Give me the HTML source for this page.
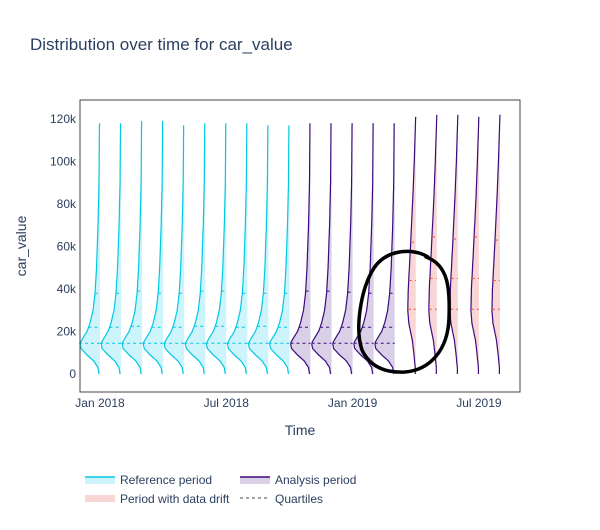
<!DOCTYPE html>
<html><head><meta charset="utf-8"><style>
body{margin:0;background:#fff;font-family:"Liberation Sans",sans-serif;}
svg text{font-family:"Liberation Sans",sans-serif;fill:#2a3f5f;}
</style></head><body>
<svg id="chart" width="600" height="525" xmlns="http://www.w3.org/2000/svg">
<rect width="600" height="525" fill="#fff"/>
<text x="30" y="50" font-size="17">Distribution over time for car_value</text>
<g id="marks"></g>
<rect x="80" y="100" width="440" height="292" fill="none" stroke="#444" stroke-width="1"/>
<g id="axes"></g>
<text x="300" y="435" font-size="14" text-anchor="middle">Time</text>
<text transform="translate(26,246) rotate(-90)" font-size="14" text-anchor="middle">car_value</text>
<path d="M428,257 C412,247 386,250 374,268 C360,290 355,330 362,350 C370,367 385,373 405,372 C430,370 448,350 449,318 C450,290 449,265 426,257" fill="none" stroke="#000" stroke-width="3.5" stroke-linecap="round"/>
<g>
<g><rect x="85" y="477" width="30" height="7" fill="#ccf4fa"/><line x1="85" y1="477" x2="115" y2="477" stroke="#00c8e5" stroke-width="1.5"/><text x="120" y="484" font-size="12">Reference period</text></g>
<g><rect x="240" y="477" width="30" height="7" fill="#d9d0e8"/><line x1="240" y1="477" x2="270" y2="477" stroke="#3c0a7c" stroke-width="1.5"/><text x="275" y="484" font-size="12">Analysis period</text></g>
<g><rect x="85" y="495" width="30" height="7" fill="#f9d6d6"/><text x="120" y="503" font-size="12">Period with data drift</text></g>
<g><line x1="240" y1="498" x2="270" y2="498" stroke="#444" stroke-dasharray="3,3"/><text x="275" y="503" font-size="12">Quartiles</text></g>
</g>
</svg>
<script>
const monthIdx=[0,1,2,3,4,5,6,7,8,9,10,11,12,13,14,15,16,17,18,19];
const period=["ref","ref","ref","ref","ref","ref","ref","ref","ref","ref","ana","ana","ana","ana","ana","drift","drift","drift","drift","drift"];
const maxVal=[118,118,119,119,117,118,118,118,117,117,118,118,118,118,118,121,122,122,121,122];
const q1=[14.5,14.5,14.5,14.5,14.5,14.5,14.5,14.5,14.5,14.5,14.5,14.5,14.5,14.5,14.5,30.5,30.5,30.5,30.5,30.5];
const med=[22,22,22.5,22,22,22.5,22.5,22,22.5,22,22,22,22,22,22,44,45,45,45,44];
const q3=[38,38,39,38,38,39,39,38,38,38,39,39,38.5,38,38,62,64.5,63.5,64.5,63];
const refProfV=[0,3,6,9,12,14.5,17,20,24,30,38,50,70,90,120];
const refProfW=[1,2,6,13,19,20,17,13,10,7,5,3.5,2,1,0.5];
const driftProfV=[0,3,10,16,24,30,40,58,82,100,122];
const driftProfW=[0.5,0.5,2,3.5,7,8,7.5,5.5,3,1.5,0];
const xs=i=>100+i*21.05, ys=v=>374-v*2.125;
function interp(vs,ws,v){if(v<=vs[0])return ws[0];for(let k=1;k<vs.length;k++){if(v<=vs[k]){const t=(v-vs[k-1])/(vs[k]-vs[k-1]);return ws[k-1]+t*(ws[k]-ws[k-1]);}}return ws[ws.length-1];}
const NS="http://www.w3.org/2000/svg";
const marks=document.getElementById('marks'),axes=document.getElementById('axes');
function mk(tag,attrs,parent){const e=document.createElementNS(NS,tag);for(const k in attrs)e.setAttribute(k,attrs[k]);parent.appendChild(e);return e;}
const col={ref:["#00c8e5","#ccf4fa","#00c8e5"],ana:["#3c0a7c","#d9d0e8","#3c0a7c"],drift:["#3c0a7c","#f9d6d6","#ef553b"]};
monthIdx.forEach((m,i)=>{
  const p=period[i],c=col[p];
  const vs=p==="drift"?driftProfV:refProfV, ws=p==="drift"?driftProfW:refProfW;
  const bx=xs(m);
  const g=mk('g',{},marks);
  
  
  let pts=[];
  for(let v=0;v<=maxVal[i];v+=1){pts.push([bx-interp(vs,ws,v),ys(v)]);}
  pts.push([bx-interp(vs,ws,maxVal[i]),ys(maxVal[i])]);
  const d=pts.map((q,k)=>(k?'L':'M')+q[0].toFixed(1)+','+q[1].toFixed(1)).join('');
  mk('path',{d:d+'L'+bx+','+ys(maxVal[i])+'L'+bx+','+ys(0)+'Z',fill:c[1],stroke:'none'},g);
  mk('path',{d:d,fill:'none',stroke:c[0],'stroke-width':1.2},g);
  [q1[i],med[i],q3[i]].forEach((q,qi)=>{
    const ln=mk('line',{x1:bx-interp(vs,ws,q)-(p==="ref"&&qi===0?1:0),x2:bx,y1:ys(q),y2:ys(q),stroke:c[2],'stroke-dasharray':'3,3','stroke-width':1},g);
    
    
  });
});
const yTicks=[0,20,40,60,80,100,120];
const yLabels=["0","20k","40k","60k","80k","100k","120k"];
yTicks.forEach((v,i)=>{const t=mk('text',{x:76,y:ys(v)+4,'font-size':12,'text-anchor':'end'},axes);t.textContent=yLabels[i];

});
const xTickMonths=[0,6,12,18];
const xLabels=["Jan 2018","Jul 2018","Jan 2019","Jul 2019"];
xTickMonths.forEach((m,i)=>{const t=mk('text',{x:xs(m),y:407,'font-size':12,'text-anchor':'middle'},axes);t.textContent=xLabels[i];

});
</script>
</body></html>
